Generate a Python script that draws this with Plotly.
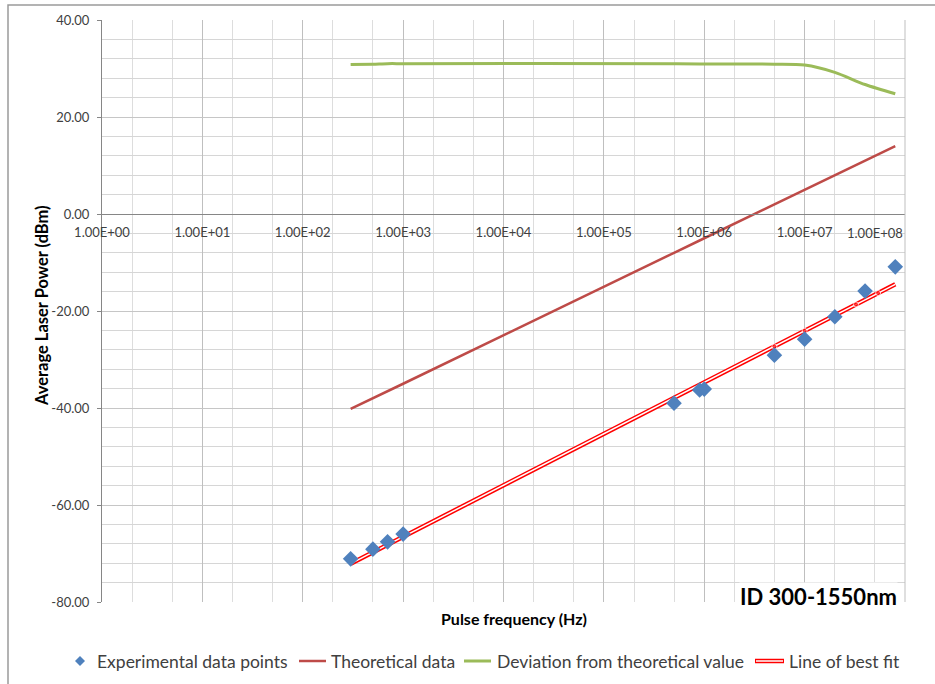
import plotly.graph_objects as go

# Pulse frequencies (Hz) and measured average power (dBm)
freq = [300, 500, 700, 1000, 5e5, 9e5, 1e6, 5e6, 1e7, 2e7, 4e7, 8e7]
experimental = [-71.1, -69.1, -67.6, -66.0, -39.0, -36.3, -36.1, -29.1, -25.8, -21.2, -15.9, -10.9]
theoretical = [-40.2, -38.0, -36.6, -35.0, -8.0, -5.5, -5.0, 2.0, 5.0, 8.0, 11.0, 14.0]
deviation = [30.8, 30.9, 31.0, 31.0, 31.0, 30.95, 30.95, 30.9, 30.7, 29.2, 26.7, 24.8]

# Line of best fit and its marked points
fit_freq = [300, 5e6, 1e7, 2e7, 3.25e7, 5.4e7, 8e7]
fit_power = [-72.1, -27.3, -24.1, -20.9, -18.65, -16.3, -14.5]
fit_marked = [False, True, True, True, True, True, False]

decade_vals = [1, 10, 100, 1e3, 1e4, 1e5, 1e6, 1e7, 1e8]
decade_text = ["1.00E+00", "1.00E+01", "1.00E+02", "1.00E+03", "1.00E+04",
               "1.00E+05", "1.00E+06", "1.00E+07", "1.00E+08"]
power_vals = [-80, -60, -40, -20, 0, 20, 40]
power_text = ["-80.00", "-60.00", "-40.00", "-20.00", "0.00", "20.00", "40.00"]

series_names = ["Experimental data points", "Theoretical data",
                "Deviation from theoretical value", "Line of best fit"]

BLUE = "#4F81BD"
DARKRED = "#BE4B48"
GREEN = "#9BBB59"
RED = "#FF0000"
FONT = "Lato"
TEXT = "#404040"

W, H = 935, 684
L, R, T, B = 102, 30, 20, 82
PW, PH = W - L - R, H - T - B


def px(xp):
    return (xp - L) / PW


def py(yp):
    return (T + PH - yp) / PH


fig = go.Figure()

fig.add_trace(go.Scatter(x=freq, y=deviation, mode="lines", name=series_names[2],
                         line=dict(color=GREEN, width=3, shape="spline", smoothing=0.8),
                         showlegend=False))
fig.add_trace(go.Scatter(x=freq, y=theoretical, mode="lines", name=series_names[1],
                         line=dict(color=DARKRED, width=2.5), showlegend=False))
# double red line: wide red stroke with a thin white core
fig.add_trace(go.Scatter(x=fit_freq, y=fit_power, mode="lines", name=series_names[3],
                         line=dict(color=RED, width=4.5), showlegend=False))
fig.add_trace(go.Scatter(x=fit_freq, y=fit_power, mode="lines",
                         line=dict(color="white", width=1.5), showlegend=False,
                         hoverinfo="skip"))
fig.add_trace(go.Scatter(x=fit_freq, y=fit_power, mode="markers",
                         marker=dict(color=RED, size=[5 if m else 0 for m in fit_marked]),
                         showlegend=False, hoverinfo="skip"))
fig.add_trace(go.Scatter(x=freq, y=experimental, mode="markers", name=series_names[0],
                         marker=dict(symbol="diamond", color=BLUE, size=12,
                                     line=dict(width=0)),
                         showlegend=False))

fig.update_layout(
    width=W, height=H,
    margin=dict(l=L, r=R, t=T, b=B),
    paper_bgcolor="white", plot_bgcolor="white",
    font=dict(family=FONT, color=TEXT, size=13),
    xaxis=dict(type="log", range=[0, 8], anchor="free", position=80 / 120,
               tickvals=decade_vals[:-1], ticktext=decade_text[:-1],
               ticks="", ticklabelstandoff=6,
               showline=True, linecolor="#868686", linewidth=1,
               showgrid=True, gridcolor="#BFBFBF", gridwidth=1,
               minor=dict(showgrid=True, gridcolor="#DDDDDD", ticks=""),
               tickfont=dict(size=13, color=TEXT), zeroline=False),
    yaxis=dict(range=[-80, 40], tickvals=power_vals, ticktext=power_text,
               ticks="outside", ticklen=4, tickcolor="#868686",
               showline=True, linecolor="#868686", linewidth=1,
               showgrid=True, gridcolor="#C6C6C6", gridwidth=1,
               minor=dict(dtick=4, showgrid=True, gridcolor="#D6D6D6", ticks=""),
               zeroline=False, tickfont=dict(size=13, color=TEXT),
               ticklabelstandoff=5),
)

# right edge of the plot area
fig.add_shape(type="line", xref="paper", yref="paper", x0=1, x1=1, y0=0, y1=1,
              line=dict(color="#BFBFBF", width=1))

annotations = []
# last decade label sits just inside the plot edge
annotations.append(dict(x=8, y=0, xref="x", yref="y", text=decade_text[-1],
                        showarrow=False, xanchor="right", yanchor="middle",
                        yshift=-19, font=dict(size=13, color=TEXT)))
annotations.append(dict(x=px(42), y=py(306), xref="paper", yref="paper",
                        text="<b>Average Laser Power (dBm)</b>", textangle=-90,
                        showarrow=False, xanchor="center", yanchor="middle",
                        font=dict(size=16.5, color="#000000")))
annotations.append(dict(x=px(514), y=py(618), xref="paper", yref="paper",
                        text="<b>Pulse frequency (Hz)</b>", showarrow=False,
                        xanchor="center", yanchor="middle",
                        font=dict(size=16, color="#000000")))
annotations.append(dict(x=px(898), y=py(596), xref="paper", yref="paper",
                        text="<b>ID 300-1550nm</b>", showarrow=False,
                        xanchor="right", yanchor="middle", bgcolor="white",
                        borderpad=0, font=dict(size=22, color="#000000")))

# legend row
ly = py(661)
legend_text_x = [95, 329, 495, 787]
for name, xp in zip(series_names, legend_text_x):
    annotations.append(dict(x=px(xp), y=ly, xref="paper", yref="paper", text=name,
                            showarrow=False, xanchor="left", yanchor="middle",
                            font=dict(size=17.5, color=TEXT)))
fig.update_layout(annotations=annotations)

shapes = []
# diamond symbol
cx, cy, r = 80, 661, 5
shapes.append(dict(type="path", xref="paper", yref="paper",
                   path=f"M {px(cx-r)},{py(cy)} L {px(cx)},{py(cy-r)} L {px(cx+r)},{py(cy)} L {px(cx)},{py(cy+r)} Z",
                   fillcolor=BLUE, line=dict(width=0)))
shapes.append(dict(type="line", xref="paper", yref="paper", x0=px(299), x1=px(326),
                   y0=ly, y1=ly, line=dict(color=DARKRED, width=2.5)))
shapes.append(dict(type="line", xref="paper", yref="paper", x0=px(464), x1=px(491),
                   y0=ly, y1=ly, line=dict(color=GREEN, width=3)))
shapes.append(dict(type="line", xref="paper", yref="paper", x0=px(755), x1=px(784),
                   y0=ly, y1=ly, line=dict(color=RED, width=4.5)))
shapes.append(dict(type="line", xref="paper", yref="paper", x0=px(756), x1=px(783),
                   y0=ly, y1=ly, line=dict(color="white", width=1.5)))
# chart border
shapes.append(dict(type="rect", xref="paper", yref="paper", x0=px(8), x1=px(945),
                   y0=py(700), y1=py(5), line=dict(color="#9A9A9A", width=1.5),
                   fillcolor="rgba(0,0,0,0)", layer="below"))
for s in shapes:
    fig.add_shape(**s)

fig.write_html("out.html")
